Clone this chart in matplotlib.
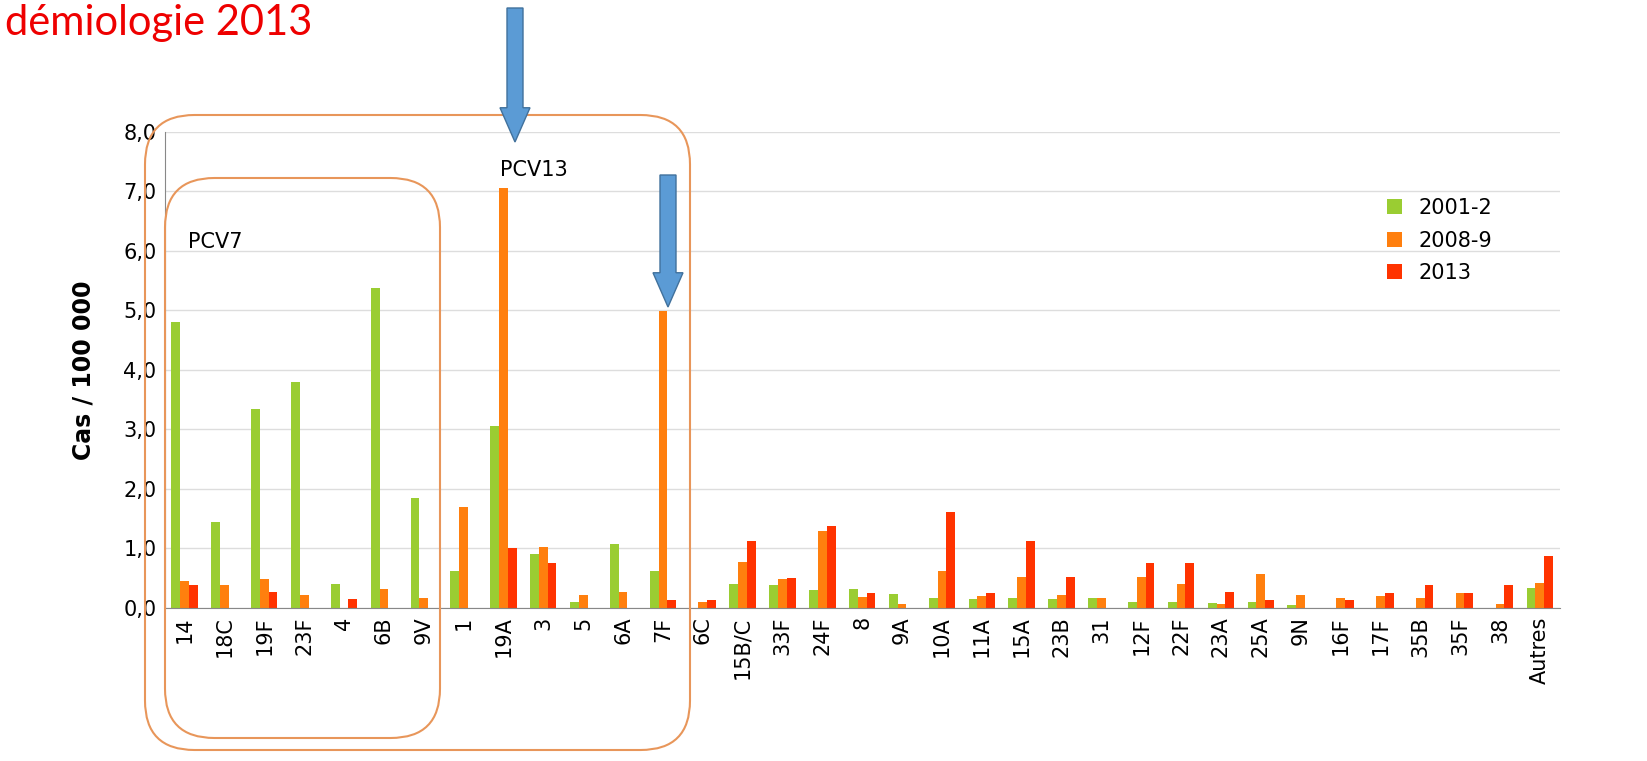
import numpy as np
import matplotlib.pyplot as plt
from matplotlib.patches import FancyBboxPatch, FancyArrow

categories = ['14', '18C', '19F', '23F', '4', '6B', '9V', '1', '19A', '3', '5', '6A', '7F',
              '6C', '15B/C', '33F', '24F', '8', '9A', '10A', '11A', '15A', '23B', '31',
              '12F', '22F', '23A', '25A', '9N', '16F', '17F', '35B', '35F', '38', 'Autres']
v2001 = [4.8, 1.45, 3.35, 3.8, 0.4, 5.38, 1.85, 0.62, 3.05, 0.9, 0.1, 1.08, 0.62,
         0, 0.4, 0.38, 0.3, 0.32, 0.23, 0.17, 0.15, 0.17, 0.15, 0.17,
         0.1, 0.1, 0.08, 0.1, 0.05, 0, 0, 0, 0, 0, 0.33]
v2008 = [0.45, 0.38, 0.48, 0.22, 0, 0.32, 0.17, 1.7, 7.05, 1.02, 0.22, 0.27, 4.98,
         0.1, 0.77, 0.48, 1.3, 0.18, 0.06, 0.63, 0.2, 0.52, 0.22, 0.17,
         0.52, 0.4, 0.06, 0.57, 0.22, 0.17, 0.2, 0.17, 0.25, 0.06, 0.42]
v2013 = [0.38, 0, 0.27, 0, 0.15, 0, 0, 0, 1.0, 0.75, 0, 0, 0.13,
         0.13, 1.12, 0.5, 1.38, 0.25, 0, 1.62, 0.25, 1.12, 0.52, 0,
         0.75, 0.75, 0.27, 0.13, 0, 0.13, 0.25, 0.38, 0.25, 0.38, 0.87]

fig = plt.figure(figsize=(16.47, 7.61), dpi=100)
ax = fig.add_axes([0.1, 0.201, 0.847, 0.626])
x = np.arange(len(categories))
w = 0.22
ax.bar(x - w, v2001, w, color='#9ACD32', label='2001-2')
ax.bar(x, v2008, w, color='#FF7F0E', label='2008-9')
ax.bar(x + w, v2013, w, color='#FF3300', label='2013')
ax.set_xlim(-0.5, len(categories) - 0.5)
ax.set_ylim(0, 8)
ax.set_yticks(np.arange(0, 9))
ax.set_yticklabels(['%d,0' % i for i in range(9)], fontsize=15)
ax.set_xticks(x)
ax.set_xticklabels(categories, rotation=90, fontsize=15)
ax.yaxis.grid(True, color='#dddddd', lw=1)
ax.set_axisbelow(True)
for s in ['top', 'right']:
    ax.spines[s].set_visible(False)
ax.spines['left'].set_color('#888888')
ax.spines['bottom'].set_color('#888888')
ax.tick_params(length=0, pad=6)
ax.set_ylabel('Cas / 100 000', fontsize=17, fontweight='bold', labelpad=20)
ax.legend(loc='upper right', bbox_to_anchor=(0.965, 0.9), frameon=False, fontsize=15,
          handlelength=0.7, handleheight=0.7, labelspacing=0.6)

W, H = 1647, 761
def fx(px): return px / W
def fy(py): return 1 - py / H

for (x0, y0, x1, y1) in [(145, 115, 690, 750), (165, 178, 440, 738)]:
    fig.patches.append(FancyBboxPatch((fx(x0), fy(y1)), fx(x1) - fx(x0), fy(y0) - fy(y1),
                                      boxstyle='round,pad=0,rounding_size=0.03',
                                      transform=fig.transFigure, fill=False,
                                      ec='#E8965A', lw=1.5, mutation_aspect=W / H))
fig.text(fx(500), fy(170), 'PCV13', fontsize=15, va='center')
fig.text(fx(188), fy(242), 'PCV7', fontsize=15, va='center')
for (ax_px, top, bot) in [(515, 8, 142), (668, 175, 307)]:
    fig.patches.append(FancyArrow(fx(ax_px), fy(top), 0, fy(bot) - fy(top),
                                  width=fx(16), head_width=fx(30), head_length=0.045,
                                  length_includes_head=True, transform=fig.transFigure,
                                  fc='#5B9BD5', ec='#41719C', lw=1))
fig.text(fx(5), fy(4), 'démiologie 2013', fontsize=30, color='#EE0000',
         ha='left', va='top', family='Lato')
fig.savefig('out.png')
